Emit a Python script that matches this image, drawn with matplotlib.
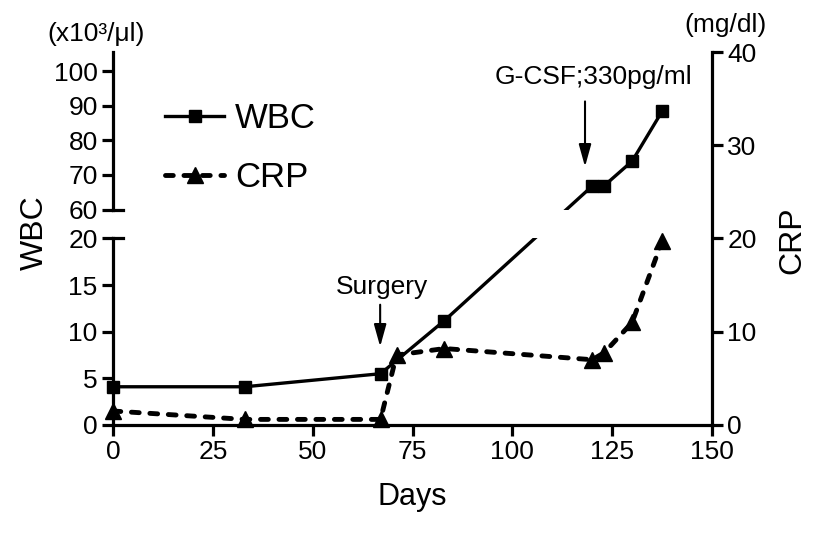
import numpy as np
import matplotlib
matplotlib.use('Agg')
import matplotlib.pyplot as plt
from matplotlib.lines import Line2D

plt.rcParams['font.family'] = ['Liberation Sans', 'DejaVu Sans']

# data
days_wbc = [0, 33, 67, 83, 120, 123, 130, 137.5]
wbc = [4.1, 4.1, 5.5, 11.2, 66.8, 66.9, 74.0, 88.4]
days_crp = [0, 33, 67, 71, 83, 120, 123, 130, 137.5]
crp = [1.5, 0.6, 0.6, 7.5, 8.2, 7.0, 7.75, 11.0, 19.7]

x_ticks = [0, 25, 50, 75, 100, 125, 150]
wbc_ticks = [0, 5, 10, 15, 20, 60, 70, 80, 90, 100]
crp_ticks = [0, 10, 20, 30, 40]

# broken left axis: 0-20 below, 60-100 above
LOW, HIGH = 20, 60
GAP = 3.1
R = 0.371


def fwd(v):
    v = np.asarray(v, dtype=float)
    return np.where(v <= LOW, v,
                    np.where(v >= HIGH, LOW + GAP + (v - HIGH) * R,
                             LOW + (v - LOW) * GAP / (HIGH - LOW)))


def inv(d):
    d = np.asarray(d, dtype=float)
    return np.where(d <= LOW, d,
                    np.where(d >= LOW + GAP, HIGH + (d - LOW - GAP) / R,
                             LOW + (d - LOW) * (HIGH - LOW) / GAP))


top = float(inv(40))

fig = plt.figure(figsize=(8.27, 5.4), dpi=100)
ax = fig.add_axes([113 / 827, 1 - 425 / 540, 599 / 827, 373 / 540])
ax.set_yscale('function', functions=(fwd, inv))
ax.set_xlim(0, 150)
ax.set_ylim(0, top)
ax2 = ax.twinx()
ax2.set_ylim(0, 40)

lw_ax = 2.3
ax.plot(days_wbc, wbc, color='k', lw=2.4, marker='s', ms=9,
        clip_on=False, zorder=2)
ax.axhspan(LOW, HIGH, color='white', lw=0, zorder=3)

dash = (0, (1.6, 2.2))
ax2.plot(days_crp, crp, color='k', lw=3.5, ls=dash, dash_capstyle='round',
         marker='^', ms=12, clip_on=False, zorder=2)

# spines
for s in ['top', 'right', 'left']:
    ax.spines[s].set_visible(False)
for s in ['top', 'left', 'bottom']:
    ax2.spines[s].set_visible(False)
ax.spines['bottom'].set_linewidth(lw_ax)
ax2.spines['right'].set_linewidth(lw_ax)

yt = ax.get_yaxis_transform()
for y0, y1 in [(0, LOW), (HIGH, top)]:
    ax.add_line(Line2D([0, 0], [y0, y1], transform=yt, color='k', lw=lw_ax,
                       clip_on=False, zorder=5))
for yc in [LOW, HIGH]:
    ax.add_line(Line2D([0, 0.017], [yc, yc], transform=yt, color='k', lw=lw_ax,
                       clip_on=False, zorder=5))

ax.set_xticks(x_ticks)
ax.set_yticks(wbc_ticks)
ax.yaxis.set_minor_locator(plt.NullLocator())
ax2.set_yticks(crp_ticks)
ax.tick_params(direction='out', length=8, width=lw_ax, labelsize=19, pad=3)
ax2.tick_params(axis='y', direction='out', length=8, width=lw_ax,
                labelsize=19, pad=3)

# legend
h1 = Line2D([], [], color='k', lw=2.4, marker='s', ms=9)
h2 = Line2D([], [], color='k', lw=3.5, ls=dash, dash_capstyle='round',
            marker='^', ms=12)
ax2.legend([h1, h2], ['WBC', 'CRP'], loc='upper left',
           bbox_to_anchor=(165 / 827, 1 - 102 / 540),
           bbox_transform=fig.transFigure, frameon=False, fontsize=25,
           handlelength=1.7, handletextpad=0.32, labelspacing=0.75,
           borderpad=0, borderaxespad=0)

# annotations
arrow = dict(arrowstyle='-|>,head_length=0.9,head_width=0.25',
             lw=1.5, color='k', mutation_scale=15, shrinkA=0, shrinkB=0)
ax2.text(67.4, 14.1, 'Surgery', ha='center', va='baseline', fontsize=19)
ax2.annotate('', xy=(66.9, 8.4), xytext=(66.9, 12.9), arrowprops=arrow)
ax2.text(120.3, 36.6, 'G-CSF;330pg/ml', ha='center', va='baseline',
         fontsize=19)
ax2.annotate('', xy=(118.2, 27.7), xytext=(118.2, 34.7), arrowprops=arrow)

# axis titles and units
fig.text(412 / 827, 1 - 497 / 540, 'Days', ha='center', va='center',
         fontsize=22)
fig.text(35 / 827, 1 - 233 / 540, 'WBC', rotation=90, ha='center',
         va='center', fontsize=23)
fig.text(792 / 827, 1 - 240 / 540, 'CRP', rotation=90, ha='center',
         va='center', fontsize=23)
fig.text(96 / 827, 1 - 34 / 540, '(x10³/μl)', ha='center', va='center',
         fontsize=19)
fig.text(726 / 827, 1 - 25 / 540, '(mg/dl)', ha='center', va='center',
         fontsize=19)

fig.savefig('out.png', dpi=100)
